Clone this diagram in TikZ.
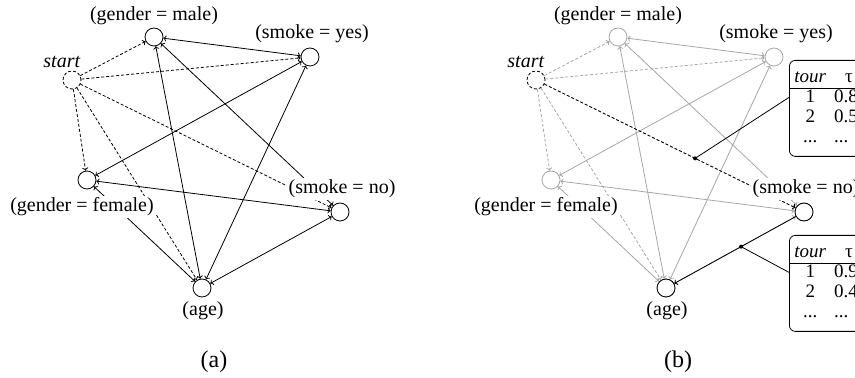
\documentclass[tikz,border=0pt]{standalone}
\usepackage{fontspec}
\setmainfont{Liberation Serif}
\usetikzlibrary{arrows.meta}
\pgfdeclarelayer{background}
\pgfsetlayers{background,main}
\renewcommand{\arraystretch}{0.9}
\colorlet{edgecol}{black}
\tikzset{
>={To[length=1.5pt,width=3pt]},
vtx/.style={circle, draw=edgecol, minimum size=9pt, inner sep=0pt},
startvtx/.style={vtx, draw=black, dash pattern=on 1.5pt off 1pt},
lbl/.style={fill=white, inner sep=1pt},
link/.style={draw=edgecol, <->},
firststep/.style={draw=edgecol, dash pattern=on 1.5pt off 1pt, ->},
tourtab/.style={draw, rounded corners=3pt, inner xsep=0pt, inner ysep=4pt, anchor=north west, font=\fontsize{9.5pt}{11pt}\selectfont},
cgraph/.pic={
  \node[startvtx] (-start) at (72,80) {};
  \node[vtx] (-male) at (154,37) {};
  \node[vtx] (-yes) at (310,57) {};
  \node[vtx] (-female) at (87,180) {};
  \node[vtx] (-no) at (340,212) {};
  \node[vtx] (-age) at (202,288) {};
  \node[lbl] (-lstart) at (62,62) {\textit{start}};
  \node[lbl] (-lmale) at (154,16) {(gender = male)};
  \node[lbl] (-lyes) at (312,34) {(smoke = yes)};
  \node[lbl] (-lfemale) at (82,207) {(gender = female)};
  \node[lbl] (-lno) at (342,189) {(smoke = no)};
  \node[lbl] (-lage) at (203,311) {(age)};
  \begin{pgfonlayer}{background}
    \foreach \u/\v in {male/yes, male/no, male/age, female/yes, female/no, female/age, yes/age, no/age}
      \draw[link] (-\u) -- (-\v);
    \foreach \v in {male, yes, female, no, age}
      \draw[firststep] (-start) -- (-\v);
  \end{pgfonlayer}
  }
}

\begin{document}
\begin{tikzpicture}[x=0.5pt, y=-0.5pt]
  \useasboundingbox (0,0) rectangle (855,378);
  \clip (0,0) rectangle (855,378);
  \pic (a) at (0,0) {cgraph};
  \node (capa) at (214,362) {\large (a)};
  \colorlet{edgecol}{black!35}
  \pic (b) at (464,0) {cgraph};
  \node (capb) at (678,362) {\large (b)};
  % one tour through the graph
  \begin{pgfonlayer}{background}
    \draw[firststep, draw=black] (b-start) -- coordinate[pos=0.6] (tau1) (b-no);
    \draw[->] (b-no) -- coordinate[pos=0.45] (tau2) (b-age);
  \end{pgfonlayer}
  \draw (b-no.center) circle [radius=9];
  \draw (b-age.center) circle [radius=9];
  \fill (tau1) circle [radius=2];
  \fill (tau2) circle [radius=2];
  \node[tourtab] (tabA) at (789,60) {\begin{tabular}{@{\hspace{2.5pt}}c@{\hspace{4pt}}l@{\hspace{24pt}}}
    \textit{tour} & \hspace{5.5pt}τ \\ \hline
    1 & 0.8 \\
    2 & 0.5 \\
    ... & ...
  \end{tabular}};
  \node[tourtab] (tabB) at (789,235) {\begin{tabular}{@{\hspace{2.5pt}}c@{\hspace{4pt}}l@{\hspace{24pt}}}
    \textit{tour} & \hspace{5.5pt}τ \\ \hline
    1 & 0.9 \\
    2 & 0.4 \\
    ... & ...
  \end{tabular}};
  \draw (tau1) -- ([yshift=5.5pt]tabA.west);
  \draw (tau2) -- ([yshift=5.5pt]tabB.west);
\end{tikzpicture}
\end{document}
